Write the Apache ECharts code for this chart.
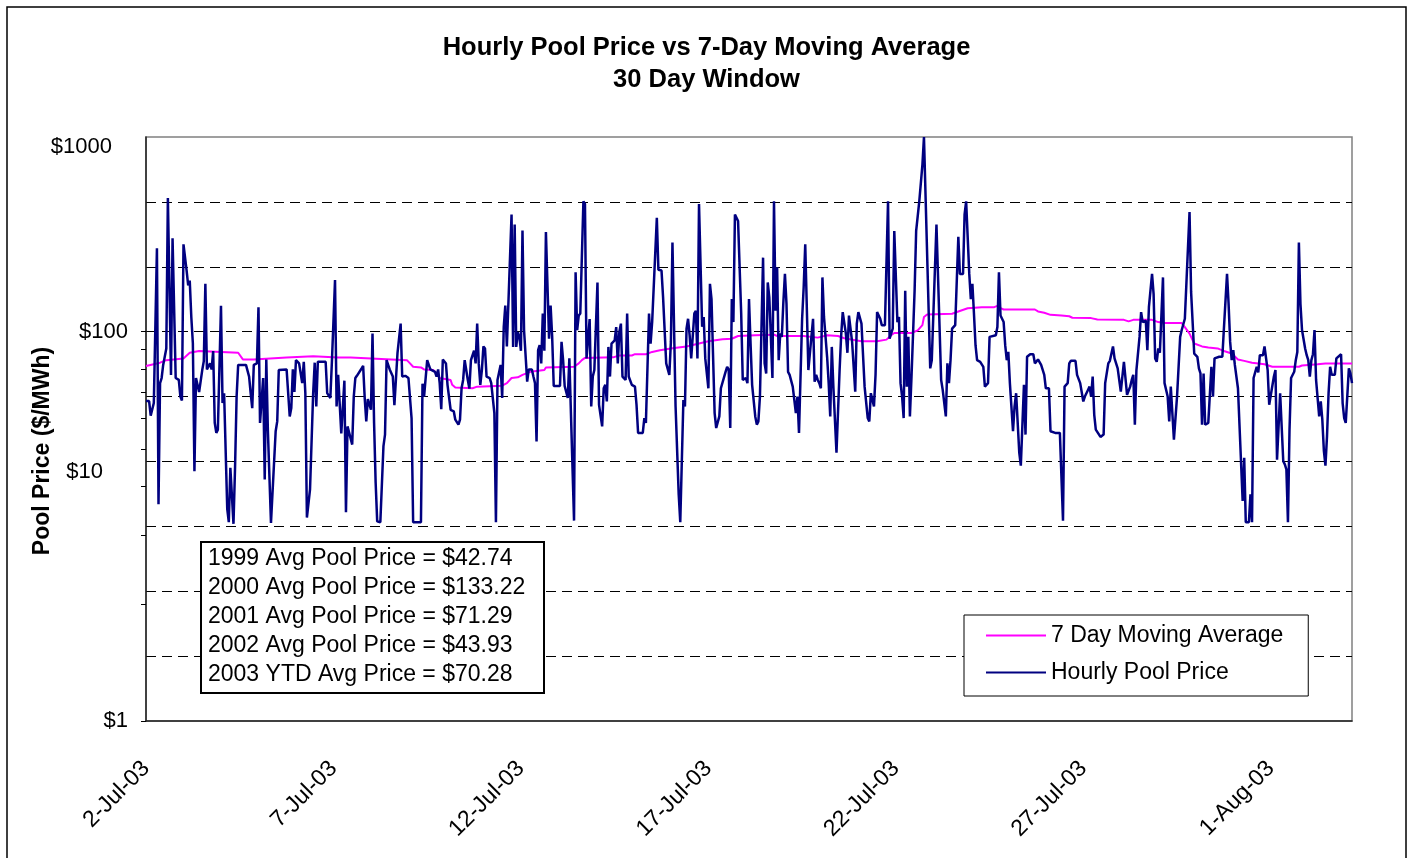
<!DOCTYPE html>
<html><head><meta charset="utf-8">
<script src="https://cdn.jsdelivr.net/npm/echarts@6/dist/echarts.min.js"></script>
<style>html,body{margin:0;padding:0;background:#fff}#c{width:1413px;height:858px}</style>
</head><body><div id="c"></div>
<script>
const chartTitle = 'Hourly Pool Price vs 7-Day Moving Average\n30 Day Window';
const yAxisTitle = 'Pool Price ($/MWh)';
const xTickLabels = ['2-Jul-03','7-Jul-03','12-Jul-03','17-Jul-03','22-Jul-03','27-Jul-03','1-Aug-03'];
const hoursPerLabel = 120;
const lastHour = 772;
const yTickLabels = ['$1','$10','$100','$1000'];
const yTickLabelValues = [1, 19, 100, 891];
const yTickValues = [1,4,9,16,25,36,49,64,81,100];
const seriesNames = ['7 Day Moving Average','Hourly Pool Price'];
const avgNotes = ['1999 Avg Pool Price = $42.74','2000 Avg Pool Price = $133.22','2001 Avg Pool Price = $71.29','2002 Avg Pool Price = $43.93','2003 YTD Avg Price = $70.28'];

const hourlyHours = [
0,2,3,5,6,7,8,9,10,11,
13,14,16,17,19,21,22,23,24,26,
27,28,29,30,31,32,33,34,36,37,
38,39,40,41,42,43,44,45,46,48,
49,50,52,53,54,56,57,58,59,64,
66,67,68,69,71,72,73,75,76,77,
78,80,81,83,84,85,86,90,92,93,
94,95,96,98,100,101,102,103,105,107,
108,109,110,115,116,118,119,120,121,122,
123,124,125,126,127,128,129,130,132,133,
134,135,136,138,139,140,141,142,144,145,
146,147,148,150,152,153,154,155,156,158,
159,161,163,164,166,168,170,171,176,177,
178,180,182,185,186,187,188,189,190,192,
193,194,195,197,198,200,201,202,203,204,
205,206,207,208,210,211,212,213,214,215,
216,217,218,220,221,223,224,225,227,228,
229,230,231,232,234,235,236,237,238,239,
240,241,242,244,245,247,248,249,250,251,
252,253,254,255,256,258,259,260,261,265,
266,267,268,270,271,274,275,276,277,278,
279,280,281,282,283,284,285,286,287,289,
290,292,293,294,295,296,297,298,300,301,
302,303,304,305,307,308,309,311,313,314,
315,318,319,320,321,322,323,324,325,327,
328,330,331,333,335,336,337,339,340,341,
342,343,344,345,346,347,348,349,351,352,
353,354,355,356,357,358,360,361,362,364,
365,367,368,369,371,372,373,374,375,376,
377,379,381,382,383,384,385,386,387,388,
390,391,392,393,395,396,397,398,399,400,
401,402,403,404,405,406,407,408,409,410,
411,412,414,415,416,417,418,420,421,422,
424,425,427,428,429,430,431,432,433,434,
436,437,438,439,440,442,444,445,446,448,
449,450,452,454,455,456,458,460,461,462,
463,464,466,467,468,469,470,471,473,475,
476,478,479,481,482,483,484,485,486,487,
488,489,490,492,493,495,497,498,499,502,
503,506,509,510,512,513,514,515,516,518,
520,521,523,524,525,526,527,528,529,530,
531,532,534,536,537,539,540,541,544,545,
546,547,549,550,551,552,553,555,556,557,
559,560,561,562,563,564,566,568,569,570,
571,573,575,576,578,579,582,585,587,588,
590,591,592,595,596,598,600,601,603,604,
605,606,607,608,609,611,613,614,616,617,
618,619,620,622,624,625,626,628,630,631,
632,633,634,636,637,638,640,641,642,644,
645,646,647,648,649,650,651,652,654,655,
656,658,660,662,663,665,666,668,669,671,
673,674,675,676,677,678,680,681,682,683,
684,685,687,689,690,692,693,694,695,696,
697,699,700,702,703,704,706,707,708,709,
710,711,712,713,715,716,717,718,719,720,
722,723,724,725,726,728,729,730,731,732,
733,735,736,737,738,739,740,742,743,744,
745,746,747,748,749,751,752,753,754,755,
756,757,758,759,761,762,763,765,766,767,
768,770,771,772];
const hourlyPrice = [
44,44,37,43,44,268,13,54.4,57.8,67.5,
82,486,59.9,302,57.8,56.5,46.4,44.3,281,206,
173,183,119,87,19.2,57.8,57.8,49,63.5,70.6,
176,64,64,68.7,64,79.5,34,30.2,31.4,136,
43,48.3,12.3,10.5,20,10.3,20,46.4,67.5,67.5,
58.8,48.3,40.5,67.5,68.7,133.5,34,57.8,17.4,72,
31.4,10.4,10.4,30.8,34.6,63.5,64,64,36.7,40.5,
64,49,71.4,68.7,54.4,70,48.3,11.1,15.5,48.3,
69.3,41.3,70,70,48.3,45.6,70,71.4,184,41.3,
60,58.8,30,30,56,11.8,32.6,33.3,26.3,46.4,
57.8,59.3,58.8,64.7,66.7,45.6,34.6,45,39.7,97.7,
34,16.8,10.6,10.5,25.8,29.6,71.4,72,64,58.8,
41.9,77.9,110,58.8,59.3,57.8,36,10.5,10.5,54,
46.4,71.4,64,62.2,58.8,64,54.4,40,72,68.7,
53.3,53.3,39.7,39,35.3,33.3,35.3,51.2,56.5,71.4,
72,56.5,51,71.4,79.8,68.7,110,68.7,53.3,63.5,
84,82,58.8,57.8,54.4,38.2,10.5,56.5,67.5,45.6,
105.6,136,84,84,400,83.5,355,83.5,99.6,94,
79.8,331,102,55.4,64,64,58.8,54.4,27.3,80.3,
85.2,68.7,124,79.8,325,92,136,94,52.6,52.6,
88.6,71.4,52.6,45.6,72.9,10.7,202,102,121,124,
124,467,453,72.9,71.4,116,41.3,58.8,63.5,179,
42.1,32.6,51.2,53.3,43.8,83.5,58.8,86.9,90.3,105.6,
68.7,99.6,110,58.8,56.5,124,58.8,53.3,52.2,42.1,
30.2,30.2,36,34,34.6,124,86.9,112,110,385,
208,206,150,68.7,60,88.6,287,41.3,41.3,14.6,
10.5,10.5,44.6,41.3,103.6,116.5,95.8,72.9,124,128,
72.9,453,450,106,119,72.9,51.2,176,147,38.2,
32,36.7,51.2,51.2,62.2,66,64,32,147,112,
400,370,124,56.5,55.4,57.8,54.4,147,86.9,53.3,
36.7,33.3,34.6,46.4,240,68.7,61,179,150,94,
57.8,467,128,214,71.4,97.7,94,142,198,139,
62.2,60,52.2,51.2,38.2,46.4,30.2,116.5,169,281,
63.5,62.2,116.5,55.4,60,56.5,54.4,51.2,190,119,
74.3,54.4,36.7,83.5,52.2,23.9,63.5,95.8,126,97.7,
77.9,121,88.6,49.2,110,126,110,52.2,52.2,36,
34.6,48.3,41.3,60,126,126,116.5,108,108,467,
92,103.6,329,112,119,54.4,46.4,36,162,52.2,
94,36.7,58,162,329,467,720,999.99,999.99,64.8,
71.4,355,56.5,50.2,36.7,68.7,54.4,71.4,103.6,108,
307,198,198,400,467,472,198,147,176,124,
85.2,71.4,70,66,52.2,54.4,94,95.8,95.8,105.6,
202,121,112,85.2,71.4,78.7,54.4,30.8,41.3,48.3,
23.9,20.5,20.5,53.3,29.6,74.3,76.6,76.6,68.7,68.7,
72,67.5,60,51.2,51.2,30.8,30.2,30.2,10.7,52.2,
54.4,68.7,70.8,70.8,60,54.4,43.8,46.4,50.2,52.2,
46.4,58.8,37.4,31.4,30.8,28.8,29.6,54.4,68.7,70.8,
71.4,84,72.9,64.8,49.2,58.8,70,47.4,52.2,56.5,
60,33.3,63.5,94,126,112,114,80.3,134,198,
156,72.9,70,82,77.9,77.9,190,54.4,46.4,34.6,
52.2,27.9,46.4,94,102,116.5,119,412,160,77.2,
74.3,64.8,61,33.3,61,33.3,34,34,66,46.4,
72.9,72.9,74.3,74.3,103.6,198,139,88.6,71.4,80.3,
67.5,51.2,50.2,13.5,22.5,10.5,10.5,14.6,10.5,57.8,
58.8,66,61.7,75.7,75.7,84,72.9,63.5,42.1,43,
58.8,63.5,22,22,48.3,21.6,20.8,19.6,10.5,31.4,
57.8,62.2,71.4,78.7,287,139,102,82,75.7,71.4,
58.8,71.4,76.6,102,56.5,36.7,43.8,35.3,24.4,20.5,
29,48.3,66,60,60,72.9,74.3,76.6,43,36,
34,64.8,61,54.4];

const maHours = [
0,9,13,24,28,34,35,59,62,69,
70,90,107,108,123,124,126,131,132,167,
169,171,176,178,184,186,188,195,196,198,
209,212,228,231,234,238,241,246,255,256,
274,277,279,281,299,303,311,313,320,324,
329,337,346,354,360,369,375,379,390,402,
404,421,430,436,443,447,454,458,468,474,
477,479,490,494,497,498,500,516,520,526,
535,543,545,547,549,569,571,575,579,586,
591,593,605,609,626,629,632,644,648,652,
663,665,668,671,676,680,686,690,695,699,
703,708,716,721,738,740,750,755,772];
const maValues = [
66.6,69.3,71.4,72.9,77.9,79.5,77.9,77.9,72,72,
73.6,73.6,74.8,73.6,73.6,72,73.6,73.6,72,71.4,
68.7,66,65.5,64,63.5,61,57.8,56.5,53.3,51.6,
51.2,52.2,52.8,54.4,57.8,58.3,60,62.2,63.5,65.5,
66,68.7,71.4,73.3,73.8,75.4,75.4,76.6,76.6,78.7,
80.3,82.2,84,86.9,89.2,91.4,92,95,95.8,96.5,
95,95,93.2,95.8,95,92.5,90.3,89.2,89.2,91,
95.8,98.4,98.4,101.6,108,119,122.6,123.6,127,132,
133.6,133.6,135.8,132,130,130,127,125,122,121,
120,117.9,117.4,115.6,115,112.9,115,115,112,110.7,
110.7,105.6,97.7,86.9,84,82.9,82,79.5,77.2,72,
70.8,69.3,68,66,66,67,68,68.7,68.7];

const FONT = 'Liberation Sans, Arial, sans-serif';
const hourlyData = hourlyHours.map((h, i) => [h, hourlyPrice[i]]);
const maData = maHours.map((h, i) => [h, maValues[i]]);

const labelPad = [[0,0,0,0],[0,25,0,0],[0,0,0,0],[0,16,0,0]];
const rich = {};
yTickLabels.forEach((t, i) => {
  rich['r' + i] = {fontSize: 22, fontFamily: FONT, color: '#000', padding: labelPad[i]};
});

const chart = echarts.init(document.getElementById('c'), null, {renderer: 'canvas'});
chart.setOption({
  animation: false,
  backgroundColor: '#fff',
  textStyle: {fontFamily: FONT},
  title: [
    {text: chartTitle, left: 'center', top: 32, padding: 0,
     textStyle: {fontSize: 25.5, fontWeight: 'bold', color: '#000', fontFamily: FONT, lineHeight: 32}},
    {text: avgNotes.join('\n'), left: 201, top: 542, padding: [2, 19, 4, 7],
     borderColor: '#000', borderWidth: 2, backgroundColor: '#fff',
     textStyle: {fontSize: 23, fontWeight: 'normal', color: '#000', fontFamily: FONT, lineHeight: 29}}
  ],
  legend: {
    data: seriesNames, orient: 'vertical', left: 964, top: 615, icon: 'rect',
    padding: [9, 25, 12, 22], itemGap: 14, itemWidth: 60, itemHeight: 2,
    borderColor: '#000', borderWidth: 1, backgroundColor: '#fff',
    textStyle: {fontSize: 23, color: '#000', fontFamily: FONT}
  },
  grid: {left: 146, right: 61, top: 137, bottom: 137, show: true, borderColor: '#808080', borderWidth: 1.5,
         containLabel: false, outerBoundsMode: 'none'},
  xAxis: {
    type: 'value', min: 0, max: lastHour, interval: hoursPerLabel,
    axisLine: {lineStyle: {color: '#222', width: 1.5}},
    axisTick: {show: false}, splitLine: {show: false},
    axisLabel: {rotate: 45, margin: 44, fontSize: 23, color: '#000', fontFamily: FONT,
      formatter: v => { const i = v / hoursPerLabel; return Number.isInteger(i) && xTickLabels[i] ? xTickLabels[i] : ''; }}
  },
  yAxis: [
    {type: 'log', logBase: 10, min: 1, max: 1000,
     name: yAxisTitle, nameLocation: 'middle', nameGap: 92, nameRotate: 90, nameMoveOverlap: false,
     nameTextStyle: {fontSize: 23, fontWeight: 'bold', color: '#000', fontFamily: FONT, padding: [0, 44, 0, 0]},
     axisLine: {show: true, lineStyle: {color: '#222', width: 1.5}},
     axisTick: {show: true, length: 5, customValues: yTickValues, lineStyle: {color: '#000'}},
     splitLine: {show: false}, minorTick: {show: false},
     axisLabel: {customValues: yTickLabelValues, margin: 18, fontSize: 22, color: '#000', fontFamily: FONT, rich: rich,
       formatter: v => {
         let best = 0, bd = Infinity;
         yTickLabelValues.forEach((lv, i) => { const d = Math.abs(Math.log(v) - Math.log(lv)); if (d < bd) { bd = d; best = i; } });
         return '{r' + best + '|' + yTickLabels[best] + '}';
       }}
    },
    {type: 'value', min: 0, max: 9, interval: 1, position: 'left',
     axisLine: {show: false}, axisTick: {show: false}, axisLabel: {show: false},
     splitLine: {show: true, showMinLine: false, showMaxLine: false, lineStyle: {color: '#000', width: 1, type: [10, 6]}}}
  ],
  series: [
    {name: seriesNames[0], type: 'line', yAxisIndex: 0, data: maData, symbol: 'none', showSymbol: false,
     lineStyle: {color: '#FF00FF', width: 2}, itemStyle: {color: '#FF00FF'}, z: 3},
    {name: seriesNames[1], type: 'line', yAxisIndex: 0, data: hourlyData, symbol: 'none', showSymbol: false,
     lineStyle: {color: '#000080', width: 2.5}, itemStyle: {color: '#000080'}, z: 4}
  ],
  graphic: [
    {type: 'rect', silent: true, z: -10, shape: {x: 7, y: 7, width: 1399, height: 880},
     style: {fill: 'none', stroke: '#000', lineWidth: 1.5}}
  ]
});
</script></body></html>
